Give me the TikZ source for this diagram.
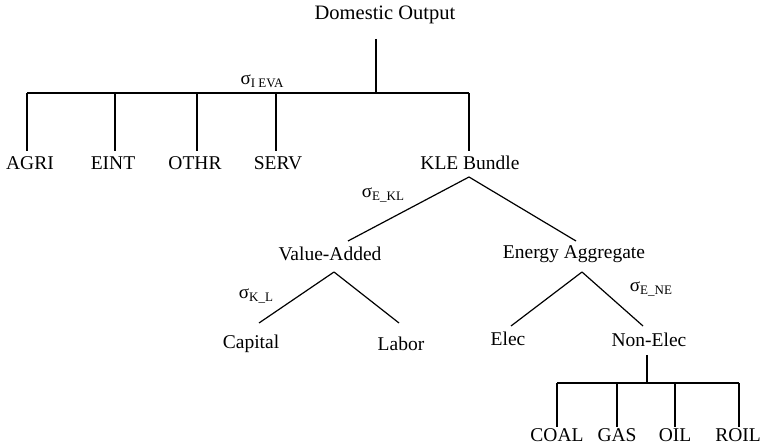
\documentclass[tikz,border=0pt]{standalone}
\usepackage{fontspec}
\setmainfont{Liberation Serif}
\begin{document}
\begin{tikzpicture}[x=1pt,y=-1pt,
  lbl/.style={font=\fontsize{19.5}{22}\selectfont, inner sep=0pt, anchor=center},
  ln/.style={line width=1.4pt},
  dl/.style={line width=1.2pt},
  sig/.style={font=\fontsize{19}{22}\selectfont, inner sep=0pt}]
\newcommand{\sigl}[1]{σ\raisebox{-0.35ex}{\fontsize{13}{14}\selectfont #1}}
\useasboundingbox (0,0) rectangle (761,446);

% labels
\node[lbl, font=\fontsize{20.5}{23}\selectfont] (dom) at (385,15) {Domestic Output};
\node[lbl] (agri) at (30,163) {AGRI};
\node[lbl] (eint) at (113,163) {EINT};
\node[lbl] (othr) at (195,163) {OTHR};
\node[lbl] (serv) at (278,163) {SERV};
\node[lbl] (kle) at (470,163) {KLE Bundle};
\node[lbl] (va) at (330,254) {Value-Added};
\node[lbl] (ea) at (574,254) {Energy Aggregate};
\node[lbl] (cap) at (251,344) {Capital};
\node[lbl] (lab) at (401,344) {Labor};
\node[lbl] (elec) at (508,339) {Elec};
\node[lbl] (nel) at (649,340) {Non-Elec};
\node[lbl] (coal) at (557,435) {COAL};
\node[lbl] (gas) at (617,435) {GAS};
\node[lbl] (oil) at (675,435) {OIL};
\node[lbl] (roil) at (738,435) {ROIL};

% sigma labels
\node[sig] (s1) at (262,81) {\sigl{I EVA}};
\node[sig] (s2) at (383,195) {\sigl{E\_KL}};
\node[sig] (s3) at (256,296) {\sigl{K\_L}};
\node[sig] (s4) at (651,289) {\sigl{E\_NE}};

% top tree
\coordinate (domb) at (376,39);
\coordinate (domj) at (376,93);
\coordinate (hl) at (27,93);
\coordinate (hr) at (469,93);
\draw[ln] (domb) -- (domj);
\draw[ln] (hl) -- (hr);
\foreach \n/\x in {agri/27, eint/115, othr/197, serv/276, kle/469}{
  \coordinate (\n t) at (\x,93);
  \coordinate (\n b) at (\x,151);
  \draw[ln] (\n t) -- (\n b);
}

% KLE split
\coordinate (kap) at (469,177);
\coordinate (vat) at (348,241);
\coordinate (eat) at (576,241);
\draw[dl] (kap) -- (vat);
\draw[dl] (kap) -- (eat);

% value added split
\coordinate (vap) at (334,272);
\coordinate (capt) at (259,323);
\coordinate (labt) at (399,323);
\draw[dl] (vap) -- (capt);
\draw[dl] (vap) -- (labt);

% energy split
\coordinate (eap) at (582,272);
\coordinate (elect) at (511,326);
\coordinate (nelt) at (643,326);
\draw[dl] (eap) -- (elect);
\draw[dl] (eap) -- (nelt);

% non-elec tree
\coordinate (nelb) at (647,355);
\coordinate (nelj) at (647,383);
\coordinate (bl) at (557,383);
\coordinate (br) at (739,383);
\draw[dl] (nelb) -- (nelj);
\draw[dl] (bl) -- (br);
\foreach \n/\x in {coal/557, gas/617, oil/675, roil/739}{
  \coordinate (\n t) at (\x,383);
  \coordinate (\n b) at (\x,427);
  \draw[dl] (\n t) -- (\n b);
}
\end{tikzpicture}
\end{document}
